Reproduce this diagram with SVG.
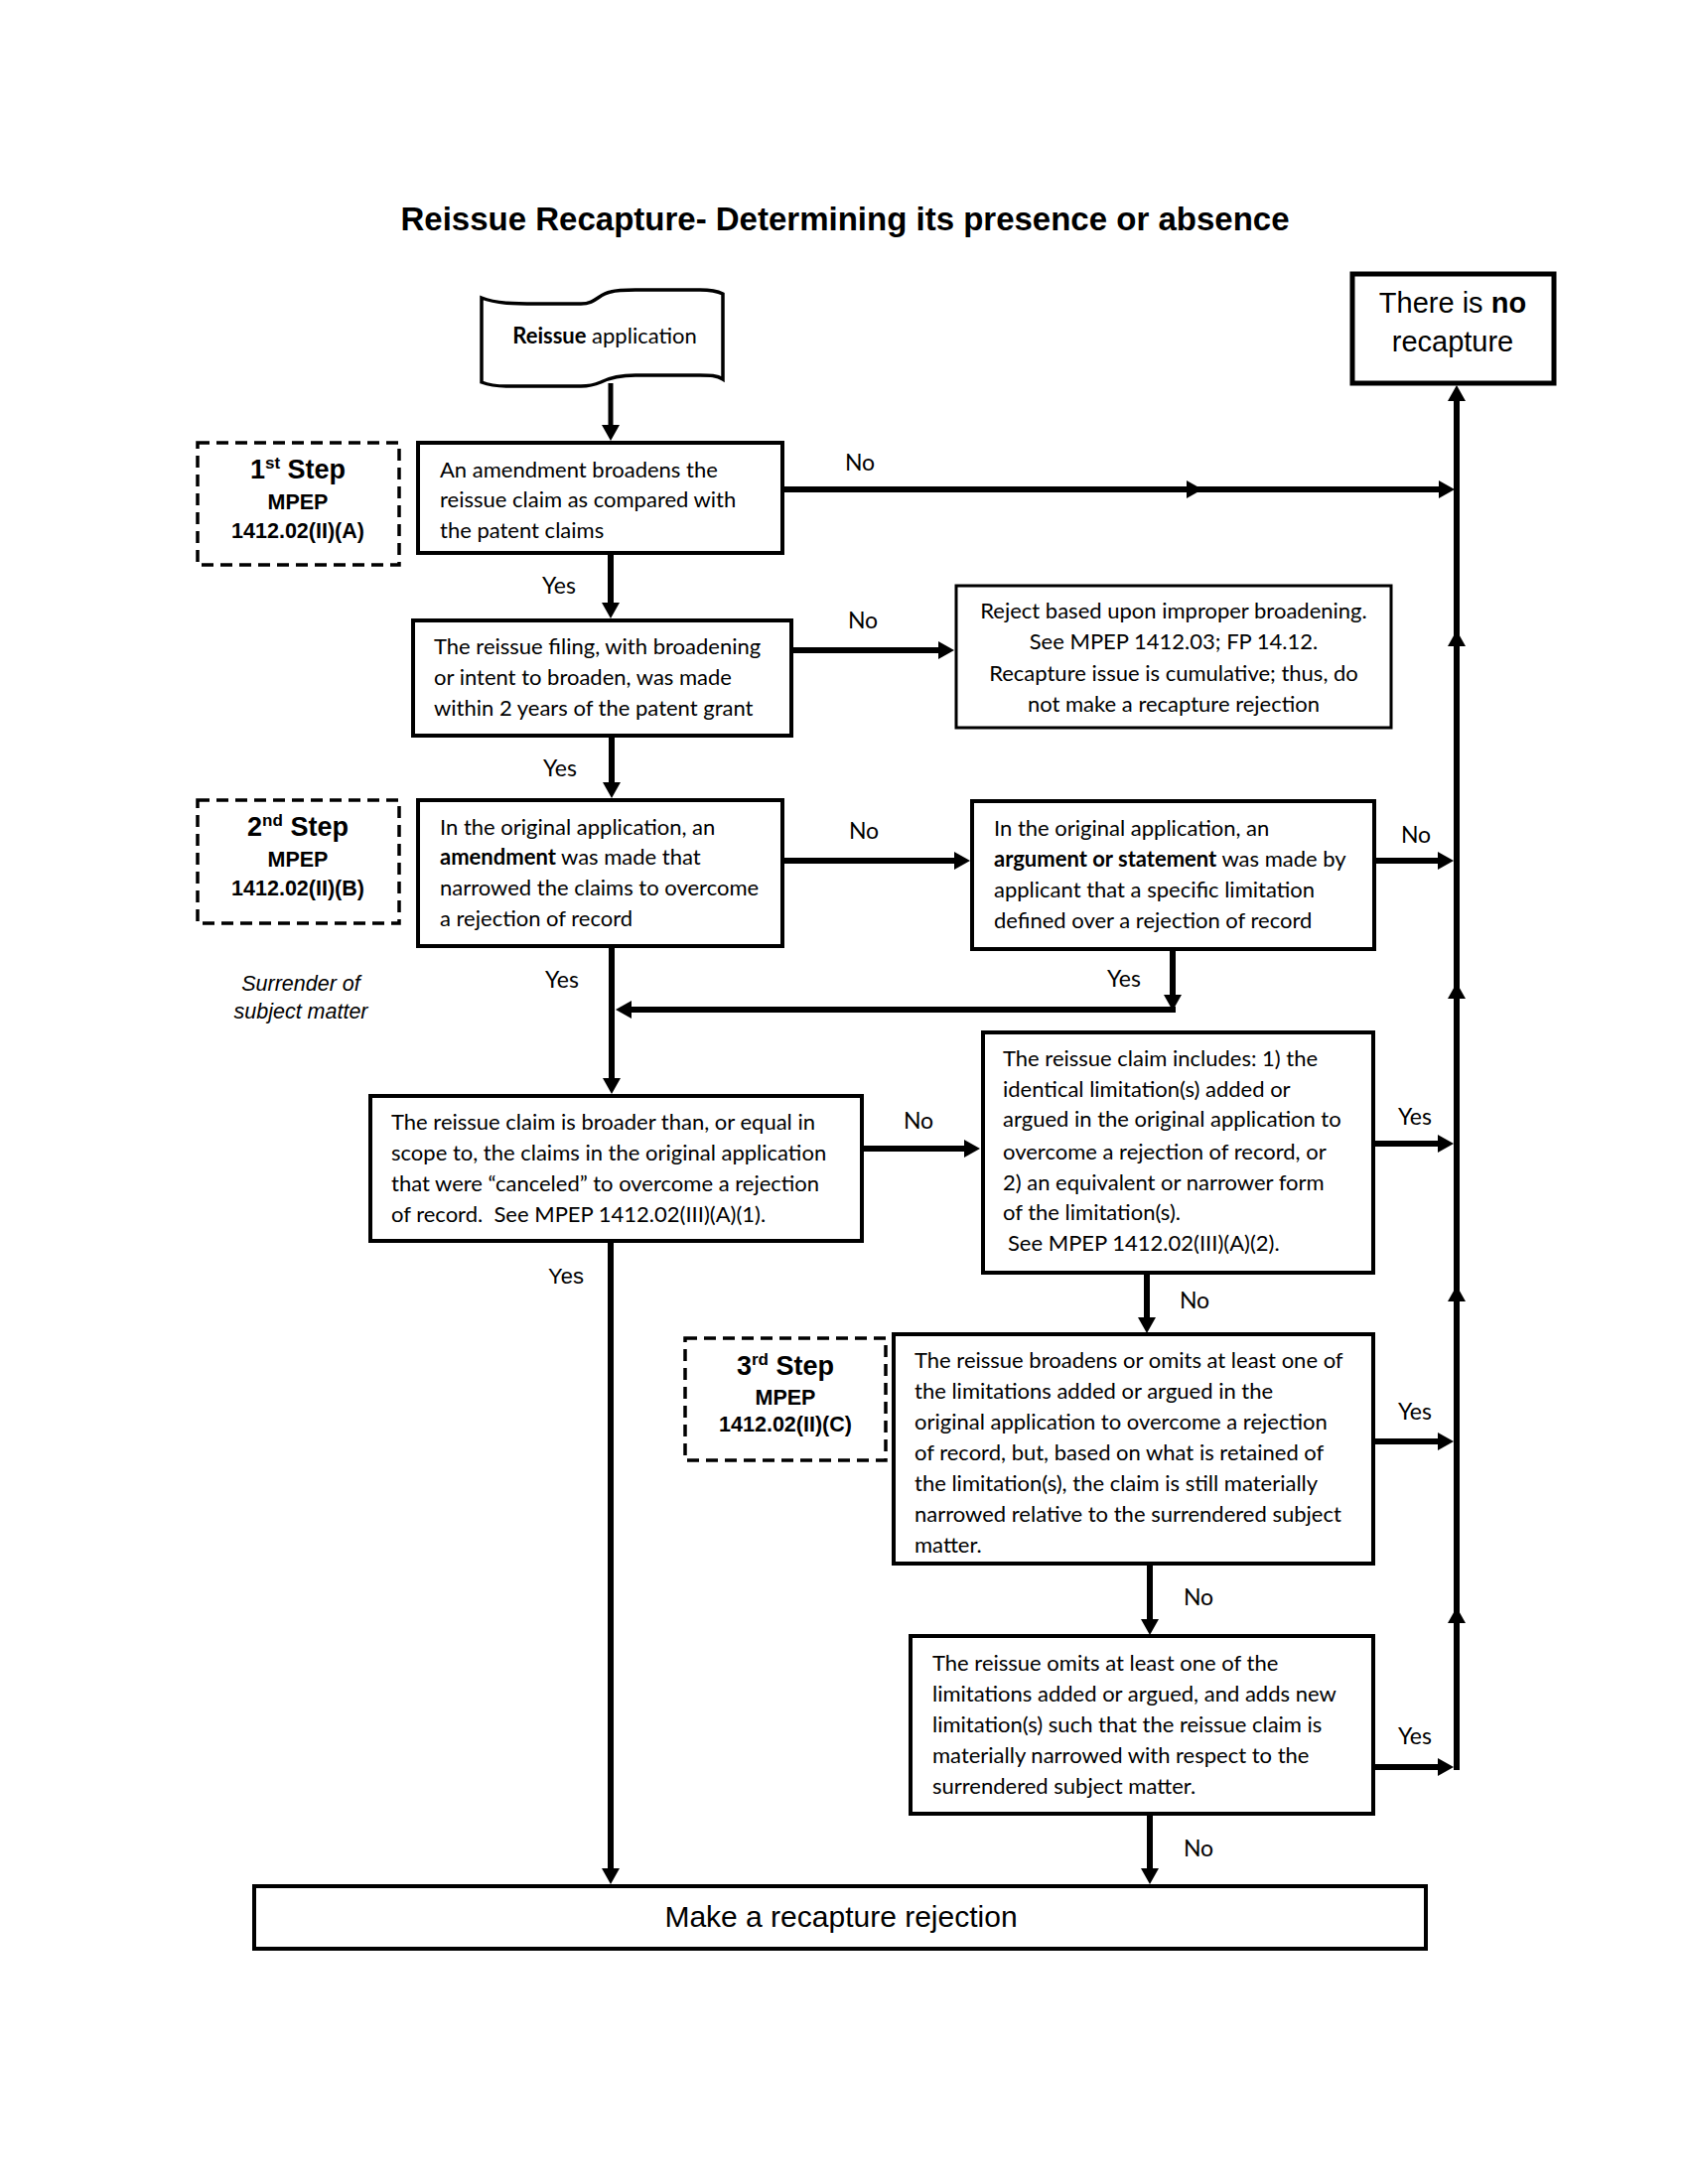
<svg xmlns="http://www.w3.org/2000/svg" width="1700" height="2200" viewBox="0 0 1700 2200">
<style>
.bg{fill:#fff}
.box{fill:#fff;stroke:#000;stroke-width:4}
.thin{fill:#fff;stroke:#000;stroke-width:3}
.dash{fill:#fff;stroke:#000;stroke-width:3.5;stroke-dasharray:12 7}
.c{fill:none;stroke:#000;stroke-width:6}
.t{font-family:Lato,"Open Sans",sans-serif;font-size:22px;fill:#000}
.lbl{font-family:Lato,"Open Sans",sans-serif;font-size:23px;fill:#000}
.a{font-family:"Liberation Sans",Arial,sans-serif;fill:#000}
.mid{text-anchor:middle}
.b{font-weight:bold}
</style>
<defs>
<marker id="ah" markerUnits="userSpaceOnUse" markerWidth="16" markerHeight="18" refX="6" refY="9" orient="auto" overflow="visible">
<path d="M0,0 L16,9 L0,18 z" fill="#000"/>
</marker>
</defs>
<rect class="bg" x="0" y="0" width="1700" height="2200"/>

<text id="title" class="a b mid" x="851" y="232" font-size="33">Reissue Recapture- Determining its presence or absence</text>

<g id="connectors">
<path class="c" d="M615,386 V434" marker-end="url(#ah)" style="stroke-width:5"/>
<path class="c" d="M615,557 V613" marker-end="url(#ah)"/>
<path class="c" d="M790,493 H1201" marker-end="url(#ah)"/>
<path class="c" d="M1201,493 H1455" marker-end="url(#ah)"/>
<path class="c" d="M797,655 H951" marker-end="url(#ah)"/>
<path class="c" d="M616,741 V794" marker-end="url(#ah)"/>
<path class="c" d="M788,867 H967" marker-end="url(#ah)"/>
<path class="c" d="M1384,867 H1454" marker-end="url(#ah)"/>
<path class="c" d="M1181,956 V1008" marker-end="url(#ah)"/>
<path class="c" d="M1184,1017 H630" marker-end="url(#ah)"/>
<path class="c" d="M616,953 V1092" marker-end="url(#ah)"/>
<path class="c" d="M868,1157 H977" marker-end="url(#ah)"/>
<path class="c" d="M1383,1152 H1454" marker-end="url(#ah)"/>
<path class="c" d="M615,1250 V1888" marker-end="url(#ah)"/>
<path class="c" d="M1155,1282 V1333" marker-end="url(#ah)"/>
<path class="c" d="M1383,1452 H1454" marker-end="url(#ah)"/>
<path class="c" d="M1158,1575 V1637" marker-end="url(#ah)"/>
<path class="c" d="M1383,1780 H1454" marker-end="url(#ah)"/>
<path class="c" d="M1158,1827 V1888" marker-end="url(#ah)"/>
<path class="c" d="M1467,1783 V1629" marker-end="url(#ah)"/>
<path class="c" d="M1467,1629 V1305" marker-end="url(#ah)"/>
<path class="c" d="M1467,1305 V1000" marker-end="url(#ah)"/>
<path class="c" d="M1467,1000 V645" marker-end="url(#ah)"/>
<path class="c" d="M1467,645 V398" marker-end="url(#ah)"/>
</g>

<g id="labels">
<text class="lbl mid" x="866" y="474">No</text>
<text class="lbl mid" x="563" y="598">Yes</text>
<text class="lbl mid" x="869" y="633">No</text>
<text class="lbl mid" x="564" y="782">Yes</text>
<text class="lbl mid" x="870" y="845">No</text>
<text class="lbl mid" x="1426" y="849">No</text>
<text class="lbl mid" x="566" y="995">Yes</text>
<text class="lbl mid" x="1132" y="994">Yes</text>
<text class="lbl mid" x="925" y="1137">No</text>
<text class="lbl mid" x="1425" y="1133">Yes</text>
<text class="a mid" x="570" y="1293" font-size="22">Yes</text>
<text class="lbl mid" x="1203" y="1318">No</text>
<text class="lbl mid" x="1425" y="1430">Yes</text>
<text class="lbl mid" x="1207" y="1617">No</text>
<text class="lbl mid" x="1425" y="1757">Yes</text>
<text class="lbl mid" x="1207" y="1870">No</text>
<text class="a mid" x="303" y="998" font-size="21.5" font-style="italic">Surrender of</text>
<text class="a mid" x="303" y="1026" font-size="21.5" font-style="italic">subject matter</text>
</g>

<g id="start">
<path d="M485,300 C500,306 520,306 540,306 L585,306 C600,306 603,296 615,294 C622,292 630,292 640,292 L705,292 C718,292 724,294 728,296 L728,382 C722,378 715,378 705,378 L640,378 C625,378 615,380 605,385 C598,388 592,389 585,389 L510,389 C497,389 490,387 485,385 Z" fill="#fff" stroke="#000" stroke-width="3.5"/>
<text class="t mid" x="609" y="346" font-size="22"><tspan font-weight="bold">Reissue</tspan> application</text>
</g>

<g id="no-recapture">
<rect x="1362" y="276" width="203" height="110" fill="#fff" stroke="#000" stroke-width="5"/>
<text class="a mid" x="1463" y="315" font-size="29">There is <tspan font-weight="bold">no</tspan></text>
<text class="a mid" x="1463" y="354" font-size="29">recapture</text>
</g>

<g id="step1">
<rect class="dash" x="199" y="446" width="203" height="123"/>
<text class="a b mid" x="300" y="482" font-size="27">1<tspan font-size="17" dy="-10">st</tspan><tspan dy="10"> Step</tspan></text>
<text class="a b mid" x="300" y="513" font-size="21.5">MPEP</text>
<text class="a b mid" x="300" y="542" font-size="21.5">1412.02(II)(A)</text>
</g>

<g id="q1">
<rect class="box" x="421" y="446" width="367" height="111"/>
<text class="t" x="443" y="481">An amendment broadens the</text>
<text class="t" x="443" y="511">reissue claim as compared with</text>
<text class="t" x="443" y="542">the patent claims</text>
</g>

<g id="q2">
<rect class="box" x="416" y="625" width="381" height="116"/>
<text class="t" x="437" y="659">The reissue filing, with broadening</text>
<text class="t" x="437" y="690">or intent to broaden, was made</text>
<text class="t" x="437" y="721">within 2 years of the patent grant</text>
</g>

<g id="reject-broadening">
<rect class="thin" x="963" y="590" width="438" height="143"/>
<text class="t mid" x="1182" y="623">Reject based upon improper broadening.</text>
<text class="t mid" x="1182" y="654">See MPEP 1412.03; FP 14.12.</text>
<text class="t mid" x="1182" y="686">Recapture issue is cumulative; thus, do</text>
<text class="t mid" x="1182" y="717">not make a recapture rejection</text>
</g>

<g id="step2">
<rect class="dash" x="199" y="806" width="203" height="124"/>
<text class="a b mid" x="300" y="842" font-size="27">2<tspan font-size="17" dy="-10">nd</tspan><tspan dy="10"> Step</tspan></text>
<text class="a b mid" x="300" y="873" font-size="21.5">MPEP</text>
<text class="a b mid" x="300" y="902" font-size="21.5">1412.02(II)(B)</text>
</g>

<g id="q3">
<rect class="box" x="421" y="806" width="367" height="147"/>
<text class="t" x="443" y="841">In the original application, an</text>
<text class="t" x="443" y="871"><tspan font-weight="bold">amendment</tspan> was made that</text>
<text class="t" x="443" y="902">narrowed the claims to overcome</text>
<text class="t" x="443" y="933">a rejection of record</text>
</g>

<g id="q4">
<rect class="box" x="979" y="807" width="405" height="149"/>
<text class="t" x="1001" y="842">In the original application, an</text>
<text class="t" x="1001" y="873"><tspan font-weight="bold">argument or statement</tspan> was made by</text>
<text class="t" x="1001" y="904">applicant that a specific limitation</text>
<text class="t" x="1001" y="935">defined over a rejection of record</text>
</g>

<g id="q5">
<rect class="box" x="373" y="1104" width="495" height="146"/>
<text class="t" x="394" y="1138">The reissue claim is broader than, or equal in</text>
<text class="t" x="394" y="1169">scope to, the claims in the original application</text>
<text class="t" x="394" y="1200">that were “canceled” to overcome a rejection</text>
<text class="t" x="394" y="1231">of record.&#160; See MPEP 1412.02(III)(A)(1).</text>
</g>

<g id="q6">
<rect class="box" x="990" y="1040" width="393" height="242"/>
<text class="t" x="1010" y="1074">The reissue claim includes: 1) the</text>
<text class="t" x="1010" y="1105">identical limitation(s) added or</text>
<text class="t" x="1010" y="1135">argued in the original application to</text>
<text class="t" x="1010" y="1168">overcome a rejection of record, or</text>
<text class="t" x="1010" y="1199">2) an equivalent or narrower form</text>
<text class="t" x="1010" y="1229">of the limitation(s).</text>
<text class="t" x="1015" y="1260">See MPEP 1412.02(III)(A)(2).</text>
</g>

<g id="step3">
<rect class="dash" x="690" y="1348" width="202" height="123"/>
<text class="a b mid" x="791" y="1385" font-size="27">3<tspan font-size="17" dy="-10">rd</tspan><tspan dy="10"> Step</tspan></text>
<text class="a b mid" x="791" y="1415" font-size="21.5">MPEP</text>
<text class="a b mid" x="791" y="1442" font-size="21.5">1412.02(II)(C)</text>
</g>

<g id="q7">
<rect class="box" x="900" y="1344" width="483" height="231"/>
<text class="t" x="921" y="1378">The reissue broadens or omits at least one of</text>
<text class="t" x="921" y="1409">the limitations added or argued in the</text>
<text class="t" x="921" y="1440">original application to overcome a rejection</text>
<text class="t" x="921" y="1471">of record, but, based on what is retained of</text>
<text class="t" x="921" y="1502">the limitation(s), the claim is still materially</text>
<text class="t" x="921" y="1533">narrowed relative to the surrendered subject</text>
<text class="t" x="921" y="1564">matter.</text>
</g>

<g id="q8">
<rect class="box" x="917" y="1648" width="466" height="179"/>
<text class="t" x="939" y="1683">The reissue omits at least one of the</text>
<text class="t" x="939" y="1714">limitations added or argued, and adds new</text>
<text class="t" x="939" y="1745">limitation(s) such that the reissue claim is</text>
<text class="t" x="939" y="1776">materially narrowed with respect to the</text>
<text class="t" x="939" y="1807">surrendered subject matter.</text>
</g>

<g id="recapture-rejection">
<rect class="box" x="256" y="1900" width="1180" height="63"/>
<text class="a mid" x="847" y="1941" font-size="30">Make a recapture rejection</text>
</g>
</svg>
